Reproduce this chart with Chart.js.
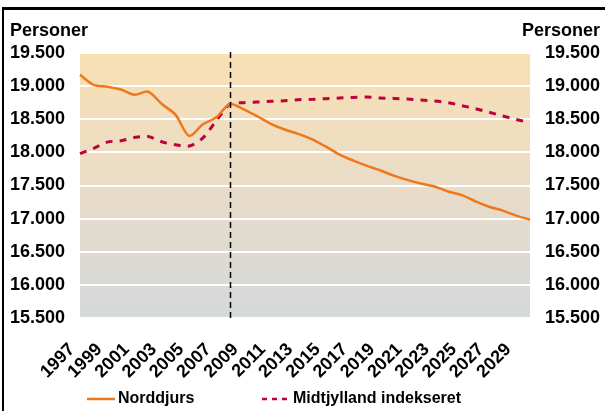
<!DOCTYPE html>
<html>
<head>
<meta charset="utf-8">
<script src="https://cdn.jsdelivr.net/npm/chart.js@4.4.1/dist/chart.umd.min.js"></script>
<style>
html,body{margin:0;padding:0;background:#fff;overflow:hidden;}
#frame{position:absolute;left:2px;top:7px;width:700px;height:500px;border-top:3px solid #000;border-left:2px solid #000;}
#c{position:absolute;left:0;top:0;}
</style>
</head>
<body>
<div id="frame"></div>
<canvas id="c" width="605" height="411"></canvas>
<script>
// ---- data ----
const years = ['1997','1998','1999','2000','2001','2002','2003','2004','2005','2006','2007','2008','2009','2010','2011','2012','2013','2014','2015','2016','2017','2018','2019','2020','2021','2022','2023','2024','2025','2026','2027','2028','2029','2030'];
const norddjurs = [19170,19020,18990,18950,18870,18915,18730,18570,18250,18420,18530,18730,18650,18545,18430,18345,18280,18200,18090,17970,17880,17800,17730,17650,17585,17530,17485,17410,17355,17260,17180,17120,17045,16985];
const midtjyllandIndekseret = [17980,18060,18155,18175,18225,18240,18160,18115,18095,18215,18480,18730,18750,18760,18770,18780,18795,18800,18810,18820,18830,18835,18820,18815,18805,18790,18775,18750,18705,18660,18605,18550,18495,18450];
const yTicks = [15500,16000,16500,17000,17500,18000,18500,19000,19500];
const seriesNames = ['Norddjurs','Midtjylland indekseret'];
const axisTitle = 'Personer';
const indexYear = '2008';

const FONT = "'Liberation Sans', Arial, sans-serif";
const ORANGE = 'rgb(240,120,28)';
const CRIMSON = 'rgb(190,0,60)';

function fmt(v){ return String(v).replace(/\B(?=(\d{3})+(?!\d))/g,'.'); }

const deco = {
  id:'deco',
  beforeDraw(chart){
    const {ctx, chartArea:a} = chart;
    const g = ctx.createLinearGradient(0,a.top,0,a.bottom);
    g.addColorStop(0,'rgb(249,224,178)');
    g.addColorStop(0.5,'rgb(233,220,200)');
    g.addColorStop(1,'rgb(213,216,218)');
    ctx.save();
    ctx.fillStyle = g;
    ctx.fillRect(a.left,a.top,a.right-a.left,a.bottom-a.top);
    ctx.restore();
  },
  afterDatasetsDraw(chart){
    const {ctx, chartArea:a} = chart;
    const x = Math.round(chart.scales.x.getPixelForValue(years.indexOf(indexYear)))+0.5;
    ctx.save();
    ctx.strokeStyle='#000';
    ctx.lineWidth=1.5;
    ctx.setLineDash([6,4]);
    ctx.beginPath();
    ctx.moveTo(x,a.top-1);
    ctx.lineTo(x,a.bottom);
    ctx.stroke();
    ctx.restore();
  },
  afterDraw(chart){
    const {ctx} = chart;
    ctx.save();
    ctx.fillStyle='#000';
    ctx.font = 'bold 18px '+FONT;
    ctx.textBaseline='alphabetic';
    ctx.textAlign='left';
    ctx.fillText(axisTitle,10,36);
    ctx.textAlign='right';
    ctx.fillText(axisTitle,600,36);
    // legend
    const ly = 399;
    ctx.lineWidth=2.5;
    ctx.strokeStyle=ORANGE;
    ctx.beginPath(); ctx.moveTo(87,ly); ctx.lineTo(115,ly); ctx.stroke();
    ctx.strokeStyle=CRIMSON;
    ctx.setLineDash([5,5]);
    ctx.beginPath(); ctx.moveTo(262,ly); ctx.lineTo(290,ly); ctx.stroke();
    ctx.setLineDash([]);
    ctx.font='bold 16px '+FONT;
    ctx.textAlign='left';
    ctx.textBaseline='middle';
    ctx.fillText(seriesNames[0],118,ly);
    ctx.fillText(seriesNames[1],293,ly);
    ctx.restore();
  }
};

const yCommon = {
  min:15500, max:19500,
  afterBuildTicks(s){ s.ticks = yTicks.map(v=>({value:v})); },
  ticks:{ padding:15, color:'#000', font:{family:FONT,size:18,weight:'bold'}, callback:(v)=>fmt(v) },
  border:{display:false}
};

new Chart(document.getElementById('c'),{
  type:'line',
  data:{
    labels:years,
    datasets:[
      {label:seriesNames[0], data:norddjurs, borderColor:ORANGE, backgroundColor:ORANGE, borderWidth:2.5, pointRadius:0, tension:0.3, yAxisID:'y'},
      {label:seriesNames[1], data:midtjyllandIndekseret, borderColor:CRIMSON, backgroundColor:CRIMSON, borderWidth:3, borderDash:[7,7], pointRadius:0, tension:0.3, yAxisID:'y'}
    ]
  },
  options:{
    responsive:false,
    animation:false,
    layout:{padding:{top:53,left:0,right:0,bottom:0}},
    plugins:{legend:{display:false}, tooltip:{enabled:false}},
    scales:{
      x:{
        type:'category', offset:false,
        grid:{display:false}, border:{display:false},
        ticks:{autoSkip:false, maxRotation:45, minRotation:45, padding:13, labelOffset:-8, color:'#000',
          font:{family:FONT,size:18,weight:'bold'},
          callback:function(v,i){ return i%2===0 ? this.getLabelForValue(v) : ''; }},
        afterFit(s){ s.height = 93; }
      },
      y:Object.assign({}, yCommon, {position:'left',
        grid:{color:'#ffffff', lineWidth:2, drawTicks:false},
        afterFit(s){ s.width = 80; }}),
      y2:Object.assign({}, yCommon, {position:'right',
        grid:{display:false, drawTicks:false},
        afterFit(s){ s.width = 75; }})
    }
  },
  plugins:[deco]
});
</script>
</body>
</html>
